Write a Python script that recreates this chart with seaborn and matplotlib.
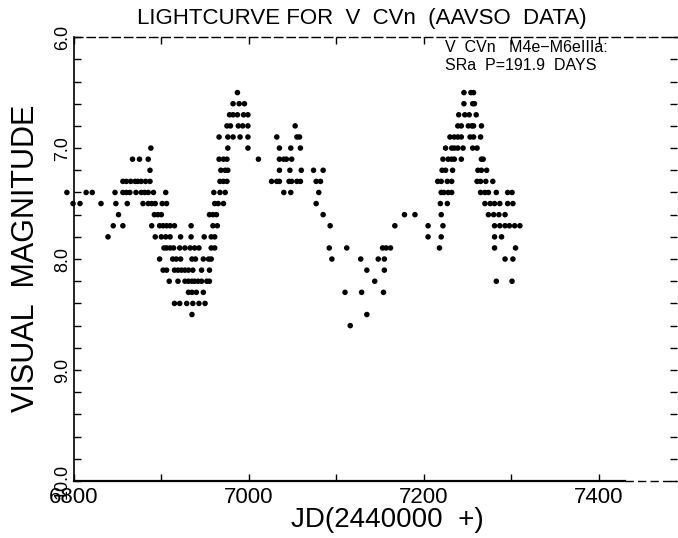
import pandas as pd
import seaborn as sns
import matplotlib.pyplot as plt
from matplotlib.ticker import MultipleLocator

# visual magnitude estimates are reported in 0.1 mag steps
mag_levels = [6.5, 6.6, 6.7, 6.8, 6.9, 7.0, 7.1, 7.2, 7.3, 7.4, 7.5,
              7.6, 7.7, 7.8, 7.9, 8.0, 8.1, 8.2, 8.3, 8.4, 8.5, 8.6]

# JD - 2440000 of the observations on each magnitude level
jd_rows = [
    [6987, 7246, 7254, 7257],
    [6982, 6989, 6995, 7246, 7256, 7258],
    [6978, 6982, 6987, 6994, 6999, 7240, 7247, 7252, 7260],
    [6975, 6979, 6988, 6993, 6999, 7053, 7239, 7243, 7251, 7255, 7257, 7266],
    [6966, 6976, 6982, 6990, 6999, 7032, 7055, 7058, 7230, 7235, 7239, 7243,
     7253, 7257, 7265],
    [6888, 6976, 6999, 7035, 7048, 7059, 7225, 7232, 7235, 7239, 7245, 7256,
     7261],
    [6867, 6875, 6885, 6966, 6971, 6975, 7011, 7035, 7040, 7043, 7049, 7222,
     7228, 7232, 7235, 7243, 7266, 7268],
    [6887, 6968, 6973, 6976, 7035, 7047, 7060, 7074, 7085, 7221, 7225, 7233,
     7262, 7266, 7272],
    [6856, 6860, 6865, 6870, 6873, 6877, 6882, 6887, 6967, 6971, 6975, 7026,
     7032, 7035, 7046, 7049, 7055, 7059, 7077, 7082, 7216, 7220, 7227, 7232,
     7261, 7265, 7271, 7279],
    [6792, 6814, 6821, 6847, 6856, 6860, 6864, 6871, 6877, 6881, 6885, 6891,
     6905, 6960, 6967, 6973, 7040, 7048, 7080, 7220, 7223, 7228, 7232, 7265,
     7270, 7274, 7283, 7296, 7301],
    [6799, 6807, 6831, 6848, 6861, 6879, 6885, 6889, 6893, 6901, 6906, 6961,
     6965, 6971, 7077, 7219, 7227, 7270, 7276, 7281, 7287, 7296, 7302],
    [6851, 6892, 6896, 6900, 6955, 6959, 6963, 7085, 7178, 7190, 7220, 7274,
     7280, 7286, 7293],
    [6845, 6856, 6889, 6898, 6902, 6906, 6910, 6915, 6934, 6959, 6964, 7093,
     7167, 7205, 7222, 7281, 7287, 7293, 7298, 7304, 7310],
    [6839, 6893, 6900, 6905, 6910, 6922, 6934, 6949, 6957, 6961, 7205, 7220,
     7281, 7289],
    [6903, 6906, 6910, 6914, 6921, 6927, 6933, 6938, 6943, 6957, 6961, 7092,
     7112, 7153, 7157, 7162, 7218, 7281, 7305],
    [6898, 6913, 6917, 6922, 6935, 6939, 6948, 6954, 6957, 7095, 7128, 7148,
     7155, 7293, 7302],
    [6902, 6906, 6915, 6919, 6923, 6927, 6931, 6936, 6946, 6955, 7135, 7155],
    [6909, 6919, 6927, 6931, 6935, 6938, 6942, 6946, 6952, 6955, 7144, 7283,
     7301],
    [6931, 6935, 6940, 6948, 7110, 7129, 7154],
    [6915, 6921, 6929, 6936, 6943, 6950],
    [6935, 7135],
    [7116],
]

x_ticks = [6800, 7000, 7200, 7400]
y_ticks = [6.0, 7.0, 8.0, 9.0, 10.0]

tab = pd.DataFrame([(j, m) for m, js in zip(mag_levels, jd_rows) for j in js],
                   columns=['jd', 'mag'])

sns.set_style('ticks')
plt.rcParams['font.family'] = ['Liberation Sans', 'DejaVu Sans']
plt.rcParams['text.color'] = 'black'
plt.rcParams['xtick.color'] = 'black'
plt.rcParams['ytick.color'] = 'black'

fig = plt.figure(figsize=(6.78, 5.38), dpi=100)
ax = fig.add_axes([0.109, 0.106, 0.89, 0.825])

sns.scatterplot(data=tab, x='jd', y='mag', color='black', s=16,
                edgecolor='none', legend=False, clip_on=False, ax=ax)

ax.set_xlim(6800, 7490)
ax.set_ylim(10.0, 6.0)
ax.set_xticks(x_ticks)
ax.set_xticklabels([str(t) for t in x_ticks], fontsize=16)
ax.set_yticks(y_ticks)
ax.set_yticklabels([f'{t:.1f}' for t in y_ticks], fontsize=13, rotation=90,
                   va='center')
ax.xaxis.set_minor_locator(MultipleLocator(100))
ax.yaxis.set_minor_locator(MultipleLocator(0.2))
ax.tick_params(which='both', direction='in', length=5, width=1,
               top=True, right=True, color='black', labelcolor='black')
ax.tick_params(axis='x', pad=4)
ax.tick_params(axis='y', pad=2)
ax.set_xlabel('')
ax.set_ylabel('')

for side in ['left', 'bottom', 'top', 'right']:
    ax.spines[side].set_color('black')
ax.spines['bottom'].set_linewidth(1.6)
ax.spines['bottom'].set_bounds(6800, 7430)
ax.spines['left'].set_linewidth(1.2)
ax.spines['top'].set_linestyle((0, (6, 3)))
ax.spines['top'].set_linewidth(1.0)
ax.spines['right'].set_visible(False)
# the plotted frame fades into a dashed line past the last tick
ax.plot([7430, 7490], [10.0, 10.0], color='black', lw=1.0,
        ls=(0, (6, 3)), clip_on=False)

fig.text(0.534, 0.966, 'LIGHTCURVE FOR  V  CVn  (AAVSO  DATA)', ha='center',
         va='center', fontsize=16, color='black')
fig.text(0.038, 0.52, 'VISUAL  MAGNITUDE', rotation=90, ha='center',
         va='center', fontsize=22, color='black')
fig.text(0.572, 0.034, 'JD(2440000  +)', ha='center', va='center',
         fontsize=20, color='black')
fig.text(0.656, 0.911, 'V  CVn   M4e\u2212M6eIIIa:', ha='left', va='center',
         fontsize=11.5, color='black')
fig.text(0.656, 0.879, 'SRa  P=191.9  DAYS', ha='left', va='center',
         fontsize=11.5, color='black')

fig.savefig('out.png', dpi=100)
